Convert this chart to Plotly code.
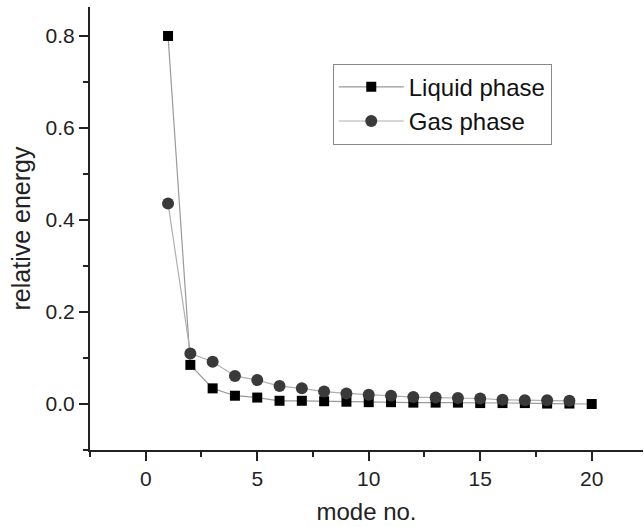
import plotly.graph_objects as go

modes_liquid = list(range(1, 21))
liquid = [0.800, 0.085, 0.034, 0.018, 0.014, 0.007, 0.007, 0.006, 0.005, 0.004,
          0.004, 0.003, 0.003, 0.003, 0.002, 0.002, 0.002, 0.001, 0.001, 0.000]
modes_gas = list(range(1, 20))
gas = [0.436, 0.110, 0.092, 0.061, 0.052, 0.039, 0.034, 0.027, 0.023, 0.020,
       0.018, 0.015, 0.014, 0.013, 0.012, 0.009, 0.008, 0.008, 0.007]

FONT = "Liberation Sans, Arial, Helvetica, sans-serif"

fig = go.Figure()
fig.add_trace(go.Scatter(
    x=modes_liquid, y=liquid, mode="lines+markers", name="Liquid phase",
    line=dict(color="#9a9a9a", width=1.2),
    marker=dict(symbol="square", size=10, color="#000000"),
))
fig.add_trace(go.Scatter(
    x=modes_gas, y=gas, mode="lines+markers", name="Gas phase",
    line=dict(color="#b0b0b0", width=1.2),
    marker=dict(symbol="circle", size=12, color="#3a3a3a"),
))

fig.update_layout(
    width=644, height=527,
    margin=dict(l=90, r=1, t=7, b=77),
    paper_bgcolor="white", plot_bgcolor="white",
    font=dict(family=FONT, size=21, color="#222222"),
    showlegend=True,
    legend=dict(
        x=0.439, y=0.872, xanchor="left", yanchor="top",
        bordercolor="#888888", borderwidth=1, bgcolor="white",
        font=dict(size=24, color="#111111"),
        itemwidth=65, tracegroupgap=0,
    ),
    xaxis=dict(
        range=[-2.5, 22.3], showgrid=False, zeroline=False,
        showline=True, linecolor="#222222", linewidth=2,
        tick0=0, dtick=5, ticks="outside", ticklen=9, tickwidth=2, tickcolor="#222222",
        minor=dict(dtick=2.5, tick0=0, ticks="outside", ticklen=5, tickwidth=2, tickcolor="#222222"),
        title=dict(text="mode no.", font=dict(size=24), standoff=14),
        tickfont=dict(size=21),
    ),
    yaxis=dict(
        range=[-0.1, 0.863], showgrid=False, zeroline=False,
        showline=True, linecolor="#222222", linewidth=2,
        tick0=0, dtick=0.2, tickformat=".1f", ticks="outside", ticklen=9, tickwidth=2, tickcolor="#222222",
        minor=dict(dtick=0.1, tick0=0, ticks="outside", ticklen=5, tickwidth=2, tickcolor="#222222"),
        title=dict(text="relative energy", font=dict(size=25), standoff=8),
        tickfont=dict(size=21),
    ),
)

fig.write_html("out.html")
